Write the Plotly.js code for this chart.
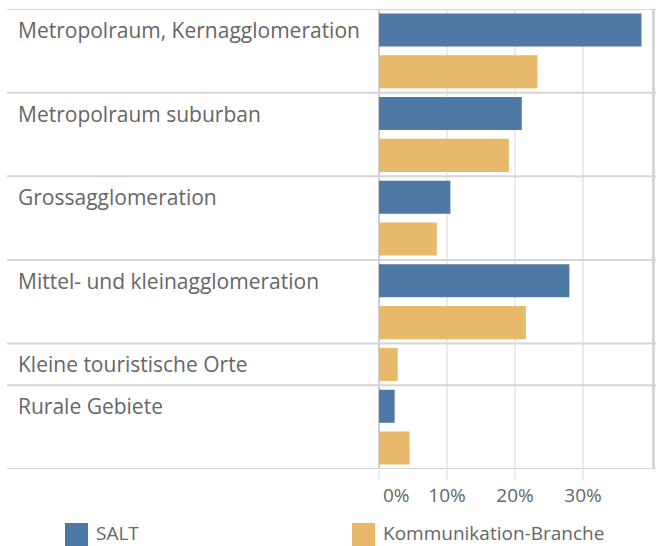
<!DOCTYPE html>
<html>
<head>
<meta charset="utf-8">
<script src="https://cdn.plot.ly/plotly-3.0.1.min.js"></script>
<style>html,body{margin:0;padding:0;background:#fff;}#chart{width:658px;height:546px;}</style>
</head>
<body>
<div id="chart"></div>
<script>
// ---- data ----
const categories = [
  "Metropolraum, Kernagglomeration",
  "Metropolraum suburban",
  "Grossagglomeration",
  "Mittel- und kleinagglomeration",
  "Kleine touristische Orte",
  "Rurale Gebiete"
];
const seriesNames = ["SALT", "Kommunikation-Branche"];
const saltValues = [38.6, 21.0, 10.5, 28.0, null, 2.3];
const kommValues = [23.3, 19.1, 8.5, 21.6, 2.75, 4.5];
const tickValues = [0, 10, 20, 30];
const tickLabels = ["0%", "10%", "20%", "30%"];

// ---- layout helpers ----
const W = 658, H = 546;
const M = {l: 379, r: 4, t: 9, b: 77};
const PW = W - M.l - M.r, PH = H - M.t - M.b;
const px = x => (x - M.l) / PW;          // pixel -> paper x
const py = y => (H - M.b - y) / PH;      // pixel -> paper y
const colors = ["#4e79a7", "#e8b96a"];
const textColor = "#666666";
const FONT = "Open Sans";

// build slots from data: one slot per present value, grouped by category
const saltY = [], saltX = [], kommY = [], kommX = [];
const groupStart = [], groupEnd = [];
let slot = 0;
categories.forEach((c, i) => {
  groupStart.push(slot);
  if (saltValues[i] !== null) { saltY.push(slot); saltX.push(saltValues[i]); slot++; }
  if (kommValues[i] !== null) { kommY.push(slot); kommX.push(kommValues[i]); slot++; }
  groupEnd.push(slot - 1);
});
const nSlots = slot;
const barW = 0.79;

const traces = [
  {type: "bar", orientation: "h", name: seriesNames[0], x: saltX, y: saltY, width: barW,
   marker: {color: colors[0]}, hoverinfo: "x+name", showlegend: false},
  {type: "bar", orientation: "h", name: seriesNames[1], x: kommX, y: kommY, width: barW,
   marker: {color: colors[1]}, hoverinfo: "x+name", showlegend: false}
];

const shapes = [];
const annotations = [];
const sepColor = "#d6d6d6";
// row separators
const bounds = [-0.5].concat(groupEnd.map(e => e + 0.5));
bounds.forEach(b => shapes.push({type: "line", xref: "paper", yref: "y",
  x0: px(7), x1: px(656), y0: b, y1: b, line: {color: sepColor, width: 2}}));
// right border
shapes.push({type: "line", xref: "paper", yref: "y", x0: px(653.5), x1: px(653.5),
  y0: -0.5, y1: nSlots - 0.5, line: {color: sepColor, width: 3}});
// category labels
categories.forEach((c, i) => annotations.push({xref: "paper", yref: "y", x: px(16), y: groupStart[i],
  xanchor: "left", yanchor: "middle", text: c, showarrow: false,
  font: {family: FONT, size: 21, color: textColor}}));
// legend (manual, larger swatches)
const legendX = [65, 352];
seriesNames.forEach((n, i) => {
  shapes.push({type: "rect", xref: "paper", yref: "paper", x0: px(legendX[i]), x1: px(legendX[i] + 23),
    y0: py(546), y1: py(523), fillcolor: colors[i], line: {width: 0}});
  annotations.push({xref: "paper", yref: "paper", x: px(legendX[i] + 30), y: py(533),
    xanchor: "left", yanchor: "middle", text: n, showarrow: false, borderpad: 0,
    font: {family: FONT, size: 19, color: textColor}});
});

const tickText = tickLabels.map((t, i) => tickValues[i] === 0 ? "\u00a0\u00a0\u00a0\u00a0\u00a0\u00a0\u00a0" + t : t);

const layout = {
  width: W, height: H,
  margin: M,
  paper_bgcolor: "#fff", plot_bgcolor: "#fff",
  barmode: "overlay",
  showlegend: false,
  font: {family: FONT, color: textColor},
  xaxis: {
    range: [0, PW / 6.8], tickvals: tickValues, ticktext: tickText,
    showgrid: true, gridcolor: "#ebebeb", gridwidth: 1.5,
    zeroline: true, zerolinecolor: "#cfcfcf", zerolinewidth: 2,
    ticks: "outside", ticklen: 9, tickwidth: 1.5, tickcolor: "#ebebeb",
    tickfont: {family: FONT, size: 19, color: textColor},
    showline: false, fixedrange: true
  },
  yaxis: {
    range: [nSlots - 0.5, -0.5], showticklabels: false, showgrid: false,
    zeroline: false, ticks: "", showline: false, fixedrange: true
  },
  shapes: shapes,
  annotations: annotations
};

Plotly.newPlot("chart", traces, layout, {displayModeBar: false, staticPlot: true});
</script>
</body>
</html>
